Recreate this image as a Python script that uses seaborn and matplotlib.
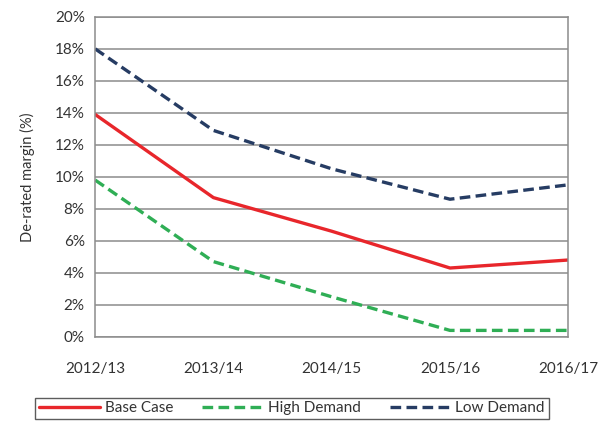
import matplotlib
matplotlib.use("Agg")
import matplotlib.pyplot as plt
import pandas as pd
import seaborn as sns
from matplotlib.ticker import PercentFormatter

years = ["2012/13", "2013/14", "2014/15", "2015/16", "2016/17"]
base_case = [13.9, 8.7, 6.6, 4.3, 4.8]
high_demand = [9.8, 4.7, 2.5, 0.4, 0.4]
low_demand = [18.0, 12.9, 10.5, 8.6, 9.5]
series_names = ["Base Case", "High Demand", "Low Demand"]

df = pd.DataFrame({
    "year": years * 3,
    "pos": list(range(len(years))) * 3,
    "margin": base_case + high_demand + low_demand,
    "scenario": [s for s in series_names for _ in years],
})

sns.set_style("white")
plt.rcParams["font.family"] = ["Lato", "DejaVu Sans"]

fig = plt.figure(figsize=(6.02, 4.21), dpi=100)
ax = fig.add_axes([0.158, 0.2, 0.786, 0.76])

palette = {"Base Case": "#e8262b", "High Demand": "#2fae55", "Low Demand": "#263c63"}
dashes = {"Base Case": "", "High Demand": (3.2, 1.6), "Low Demand": (3.2, 1.6)}
sns.lineplot(data=df, x="pos", y="margin", hue="scenario", style="scenario",
             palette=palette, dashes=dashes, linewidth=2.4, ax=ax, legend=True)

ax.set_xlim(0, 4)
ax.set_ylim(0, 20)
ax.set_yticks(range(0, 21, 2))
ax.yaxis.set_major_formatter(PercentFormatter(decimals=0))
ax.set_xticks(range(len(years)))
ax.set_xticklabels(years)
ax.grid(axis="y", color="#8c8c8c", linewidth=1.1)
ax.set_axisbelow(True)
for sp in ax.spines.values():
    sp.set_color("#8c8c8c")
    sp.set_linewidth(1.1)
ax.tick_params(axis="both", length=4, color="#8c8c8c", labelsize=11,
               labelcolor="#333333")
ax.tick_params(axis="x", pad=14)
ax.set_xlabel("")
ax.set_ylabel("De-rated margin (%)", fontsize=10.5, color="#333333", labelpad=14)

handles, labels = ax.get_legend_handles_labels()
ax.legend_.remove()
leg = fig.legend(handles, labels, loc="center", bbox_to_anchor=(0.485, 0.03),
                 ncol=3, frameon=True, fancybox=False, fontsize=11,
                 handlelength=4.0, handletextpad=0.3, columnspacing=1.9,
                 borderpad=0.25)
leg.get_frame().set_edgecolor("#333333")
leg.get_frame().set_linewidth(1.0)
for t in leg.get_texts():
    t.set_color("#333333")

fig.savefig("out.png", dpi=100)
